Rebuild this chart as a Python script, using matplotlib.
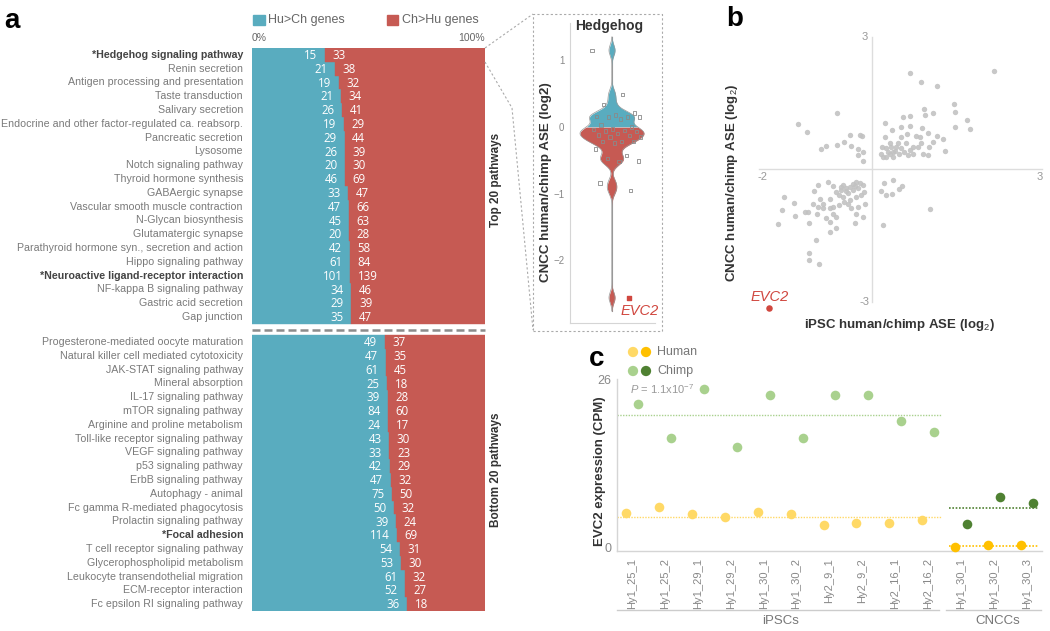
import numpy as np
import matplotlib
matplotlib.use('Agg')
import matplotlib.pyplot as plt
from matplotlib.lines import Line2D
from matplotlib.patches import Rectangle

plt.rcParams['font.family'] = ['Liberation Sans', 'DejaVu Sans']
plt.rcParams['mathtext.fontset'] = 'custom'
plt.rcParams['mathtext.rm'] = 'Liberation Sans'
plt.rcParams['mathtext.it'] = 'Liberation Sans:italic'

# ---------------- data ----------------
top_pathways = ["*Hedgehog signaling pathway", "Renin secretion", "Antigen processing and presentation",
                "Taste transduction", "Salivary secretion", "Endocrine and other factor-regulated ca. reabsorp.",
                "Pancreatic secretion", "Lysosome", "Notch signaling pathway", "Thyroid hormone synthesis",
                "GABAergic synapse", "Vascular smooth muscle contraction", "N-Glycan biosynthesis",
                "Glutamatergic synapse", "Parathyroid hormone syn., secretion and action",
                "Hippo signaling pathway", "*Neuroactive ligand-receptor interaction",
                "NF-kappa B signaling pathway", "Gastric acid secretion", "Gap junction"]
top_hu = [15, 21, 19, 21, 26, 19, 29, 26, 20, 46, 33, 47, 45, 20, 42, 61, 101, 34, 29, 35]
top_ch = [33, 38, 32, 34, 41, 29, 44, 39, 30, 69, 47, 66, 63, 28, 58, 84, 139, 46, 39, 47]

bottom_pathways = ["Progesterone-mediated oocyte maturation", "Natural killer cell mediated cytotoxicity",
                   "JAK-STAT signaling pathway", "Mineral absorption", "IL-17 signaling pathway",
                   "mTOR signaling pathway", "Arginine and proline metabolism",
                   "Toll-like receptor signaling pathway", "VEGF signaling pathway", "p53 signaling pathway",
                   "ErbB signaling pathway", "Autophagy - animal", "Fc gamma R-mediated phagocytosis",
                   "Prolactin signaling pathway", "*Focal adhesion", "T cell receptor signaling pathway",
                   "Glycerophospholipid metabolism", "Leukocyte transendothelial migration",
                   "ECM-receptor interaction", "Fc epsilon RI signaling pathway"]
bottom_hu = [49, 47, 61, 25, 39, 84, 24, 43, 33, 42, 47, 75, 50, 39, 114, 54, 53, 61, 52, 36]
bottom_ch = [37, 35, 45, 18, 28, 60, 17, 30, 23, 29, 32, 50, 32, 24, 69, 31, 30, 32, 27, 18]

hedgehog_ase = [1.15, 0.49, 0.34, 0.21, 0.18, 0.16, 0.15, 0.15, 0.15, 0.12, 0.03, 0.0, -0.03,
                -0.04, -0.05, -0.06, -0.07, -0.10, -0.12, -0.13, -0.15, -0.15, -0.22, -0.22,
                -0.22, -0.24, -0.33, -0.43, -0.47, -0.51, -0.52, -0.84, -0.95]
evc2_cncc_ase = -2.56

ipsc_ase = [0.66, 0.87, 1.14, 2.16, 0.92, 1.07, 1.44, 1.47, 1.68, 1.73, 1.47, 0.55, 0.66, 0.22, 0.35,
            0.50, 0.66, 0.94, 0.88, 0.98, 1.14, 1.25, 1.29, 1.01, 1.07, 0.78, 0.61, 0.51, 0.45, 0.72,
            0.59, 0.22, 0.31, 0.42, 0.36, 0.25, 0.16, 0.19, 0.36, 0.48, 0.57, 0.66, 0.89, 0.98, 0.86,
            0.84, 0.31, 0.25, 0.34, 0.41, 0.51, 0.18, 0.63, 0.72, 0.81, 0.28,
            -0.62, -1.31, -1.16, -0.40, -0.21, -0.18, -0.49, -0.62, -0.81, -0.91, -0.37, -0.25, -0.16,
            -0.25, -0.16,
            0.20, 0.36, 0.53, 0.47, 0.35, 0.24, 0.16, 1.02, 0.19,
            -0.78, -0.96, -1.02, -0.69, -0.55, -0.46, -0.34, -0.28, -0.22, -0.16, -0.34, -0.43, -0.52,
            -0.58, -0.64, -0.14, -0.19, -0.28, -0.40, -0.49, -0.58, -0.69, -0.75, -0.87, -0.96, -1.05,
            -0.93, -0.75, -0.87, -1.55, -1.38, -1.60, -1.37, -1.18, -1.13, -0.97, -0.81, -0.74, -0.64,
            -0.75, -1.12, -1.67, -1.00, -1.11, -1.11, -0.94, -0.31, -0.16, -0.12, -0.25, -0.28, -0.43,
            -0.37, -0.69, -0.64, -0.52, -0.40, -0.31, -0.47, -0.56, -0.25]
cncc_ase = [2.18, 1.98, 1.88, 2.24, 1.37, 1.28, 1.48, 1.30, 1.11, 0.91, 0.97, 1.18, 1.20, 1.06, 0.89,
            0.97, 0.99, 1.24, 0.94, 0.83, 0.75, 0.70, 0.41, 0.51, 0.63, 0.75, 0.81, 0.74, 0.59, 0.51,
            0.60, 0.74, 0.59, 0.51, 0.40, 0.48, 0.36, 0.29, 0.29, 0.36, 0.40, 0.44, 0.36, 0.32, 0.59,
            0.74, 0.36, 0.29, 0.51, 0.42, 0.48, 0.51, 0.32, 0.36, 0.51, 0.40,
            1.29, 1.02, 0.84, 0.79, 0.78, 0.76, 0.63, 0.55, 0.54, 0.46, 0.54, 0.46, 0.39, 0.32, 0.20,
            -0.30, -0.24, -0.38, -0.45, -0.56, -0.58, -0.49, -0.90, -1.26,
            -0.28, -0.34, -0.48, -0.37, -0.39, -0.43, -0.32, -0.28, -0.30, -0.34, -0.47, -0.54, -0.62,
            -0.58, -0.51, -0.51, -0.58, -0.62, -0.69, -0.73, -0.81, -0.84, -0.88, -0.88, -0.84, -0.77,
            -0.66, -0.66, -0.77, -0.63, -0.75, -0.92, -1.06, -0.97, -0.97, -1.00, -1.09, -1.18, -1.32,
            -1.41, -1.21, -1.23, -1.60, -1.89, -2.06, -2.13, -1.22, -1.07, -0.79, -0.84, -1.00, -0.77,
            -0.88, -1.00, -1.07, -0.35, -0.39, -0.38, -0.48, -0.47, -0.43]
evc2_ipsc, evc2_cncc = -1.82, -3.13

ipsc_samples = ["Hy1_25_1", "Hy1_25_2", "Hy1_29_1", "Hy1_29_2", "Hy1_30_1", "Hy1_30_2",
                "Hy2_9_1", "Hy2_9_2", "Hy2_16_1", "Hy2_16_2"]
cncc_samples = ["Hy1_30_1", "Hy1_30_2", "Hy1_30_3"]
human_ipsc = [5.26, 6.14, 5.06, 4.70, 5.37, 5.16, 3.35, 3.72, 3.72, 4.13]
chimp_ipsc = [22.19, 16.82, 24.41, 15.48, 23.48, 16.87, 23.58, 23.48, 19.45, 17.80]
human_cncc = [0.0, 0.36, 0.36]
chimp_cncc = [3.56, 7.79, 6.81]

# ---------------- style ----------------
BLUE = '#59acbf'
RED = '#c65a53'
W, H = 1050, 631
fig = plt.figure(figsize=(W / 100, H / 100), dpi=100)


def fx(x):
    return x / W


def fy(y):
    return 1 - y / H


def add_ax(x0, y0, x1, y1):
    return fig.add_axes([fx(x0), fy(y1), (x1 - x0) / W, (y1 - y0) / H])


def ftext(x, y, s, **kw):
    return fig.text(fx(x), fy(y), s, **kw)


def fline(xs, ys, **kw):
    fig.add_artist(Line2D([fx(v) for v in xs], [fy(v) for v in ys], transform=fig.transFigure, **kw))


# ---------------- panel a : bars ----------------
ax = add_ax(252, 48, 485, 611)
gap = 0.8
names = top_pathways + bottom_pathways
hu = np.array(top_hu + bottom_hu, float)
ch = np.array(top_ch + bottom_ch, float)
ypos = np.array(list(range(20)) + [20 + gap + j for j in range(20)])
frac = hu / (hu + ch)
ax.barh(ypos, frac, height=1.0, color=BLUE, edgecolor=BLUE, linewidth=0.3)
ax.barh(ypos, 1 - frac, left=frac, height=1.0, color=RED, edgecolor=RED, linewidth=0.3)
ax.set_xlim(0, 1)
ax.set_ylim(39.8 + 0.5, -0.5)
ax.axis('off')
for y, f, name, h, c in zip(ypos, frac, names, hu, ch):
    bold = name.startswith('*')
    ax.text(-9 / 233, y, name, ha='right', va='center', fontsize=7.7,
            color='#444' if bold else '#7a7a7a', fontweight='bold' if bold else 'normal')
    ax.annotate(str(int(h)), (f, y), xytext=(-5.5, -0.5), textcoords='offset points', ha='right',
                va='center', fontsize=8.3, color='white', family=['Open Sans', 'DejaVu Sans'])
    ax.annotate(str(int(c)), (f, y), xytext=(5.5, -0.5), textcoords='offset points', ha='left',
                va='center', fontsize=8.3, color='white', family=['Open Sans', 'DejaVu Sans'])
ax.plot([0, 1], [19.5 + gap / 2] * 2, color='#8c8c8c', lw=1.8, ls=(0, (3.2, 1.6)), clip_on=False)

# legend & axis text
fig.add_artist(Rectangle((fx(253), fy(25)), 12 / W, 10 / H, transform=fig.transFigure, color=BLUE))
ftext(268, 20, 'Hu>Ch genes', fontsize=9, color='#666', va='center')
fig.add_artist(Rectangle((fx(387), fy(25)), 11 / W, 10 / H, transform=fig.transFigure, color=RED))
ftext(402, 20, 'Ch>Hu genes', fontsize=9, color='#666', va='center')
ftext(252, 38, '0%', fontsize=7.5, color='#666', va='center')
ftext(485, 38, '100%', fontsize=7.5, color='#666', va='center', ha='right')
ftext(496, 180, 'Top 20 pathways', rotation=90, fontsize=8.5, fontweight='bold', color='#333',
      ha='center', va='center')
ftext(496, 470, 'Bottom 20 pathways', rotation=90, fontsize=8.5, fontweight='bold', color='#333',
      ha='center', va='center')
ftext(4, 28, 'a', fontsize=20, fontweight='bold', va='baseline')

# connectors and box
fline([485, 533], [48, 14], color='#aaa', lw=0.8, ls=(0, (2, 2)))
fline([485, 512, 533], [62, 108, 330], color='#aaa', lw=0.8, ls=(0, (2, 2)))
fig.add_artist(Rectangle((fx(533), fy(331)), 129 / W, 317 / H, transform=fig.transFigure,
                         fill=False, ec='#aaa', lw=0.8, ls=(0, (2, 2))))

# ---------------- violin ----------------
axv = add_ax(570, 23, 655, 323)
cx = 42
vals = np.array(hedgehog_ase + [evc2_cncc_ase])
grid = np.linspace(vals.min() - 0.2, vals.max() + 0.2, 800)
bw = 0.08
dens = np.exp(-0.5 * ((grid[:, None] - vals[None, :]) / bw) ** 2).sum(axis=1)
half = dens / dens.max() * 32
axv.plot([cx, cx], [grid[0], grid[-1]], color='#9a9a9a', lw=0.8, zorder=1)
up = grid >= 0
dn = grid <= 0
axv.fill_betweenx(grid[up], cx - half[up], cx + half[up], color=BLUE, lw=0, zorder=2)
axv.fill_betweenx(grid[dn], cx - half[dn], cx + half[dn], color=RED, lw=0, zorder=2)
axv.plot(cx - half, grid, color='#999', lw=0.5, zorder=3)
axv.plot(cx + half, grid, color='#999', lw=0.5, zorder=3)
n = len(hedgehog_ase)
jit = [((i * 0.6180339) % 1 - 0.4) * 50 for i in range(n)]
axv.scatter(np.array(jit) + cx, hedgehog_ase, marker='s', s=5, facecolor='none',
            edgecolor='#8a8a8a', lw=0.6, zorder=4)
axv.scatter([cx + 17], [evc2_cncc_ase], marker='s', s=12, color='#d0473f', zorder=4)
axv.text(cx + 28, evc2_cncc_ase - 0.2, 'EVC2', color='#d0473f', fontsize=10.5, style='italic',
         ha='center', va='center')
axv.set_xlim(0, 85)
axv.set_ylim(-2.94, 1.56)
axv.set_xticks([])
axv.set_yticks([1, 0, -1, -2])
axv.set_yticklabels(['1', '0', '\u22121', '\u22122'], fontsize=7, color='#888')
axv.tick_params(axis='y', length=0, pad=4)
for s in ['top', 'right']:
    axv.spines[s].set_visible(False)
for s in ['left', 'bottom']:
    axv.spines[s].set_color('#d5d5d5')
    axv.spines[s].set_linewidth(0.8)
ftext(609, 26, 'Hedgehog', fontsize=10, fontweight='bold', color='#333', ha='center', va='center')
ftext(546, 182, 'CNCC human/chimp ASE (log2)', rotation=90, fontsize=9.6, fontweight='bold',
      color='#333', ha='center', va='center')

# ---------------- panel b ----------------
axb = add_ax(759, 37, 1042, 302)
axb.scatter(ipsc_ase, cncc_ase, s=15, color='#c2c2c2', alpha=0.9, lw=0)
axb.scatter([evc2_ipsc], [evc2_cncc], s=22, color='#d0473f', lw=0, clip_on=False)
axb.text(evc2_ipsc, evc2_cncc + 0.25, 'EVC2', color='#d0473f', fontsize=10.5, style='italic',
         ha='center', va='center')
axb.set_xlim(-2, 3)
axb.set_ylim(-3, 3)
axb.spines['left'].set_position(('data', 0))
axb.spines['bottom'].set_position(('data', 0))
for s in ['top', 'right']:
    axb.spines[s].set_visible(False)
for s in ['left', 'bottom']:
    axb.spines[s].set_color('#dddddd')
    axb.spines[s].set_linewidth(1)
axb.set_xticks([])
axb.set_yticks([])
ftext(868, 37, '3', fontsize=8, color='#999', ha='right', va='center')
ftext(762, 177, '-2', fontsize=8, color='#999', ha='center', va='center')
ftext(1040, 177, '3', fontsize=8, color='#999', ha='center', va='center')
ftext(869, 302, '-3', fontsize=8, color='#999', ha='right', va='center')
ftext(732, 183, 'CNCC human/chimp ASE (log$_2$)', rotation=90, fontsize=9.5, fontweight='bold',
      color='#333', ha='center', va='center')
ftext(900, 325, 'iPSC human/chimp ASE (log$_2$)', fontsize=9.5, fontweight='bold',
      color='#333', ha='center', va='center')
ftext(726, 26, 'b', fontsize=20, fontweight='bold', va='baseline')

# ---------------- panel c ----------------
axc = add_ax(617, 379, 1042, 551)
ni = len(ipsc_samples)
xi = np.arange(ni)
xc = np.arange(ni, ni + len(cncc_samples))
off = 0.18
Y1, Y2 = '#ffd966', '#ffc000'
G1, G2 = '#a9d18e', '#4f8132'
axc.scatter(xi - off, human_ipsc, s=48, color=Y1, lw=0, zorder=3)
axc.scatter(xi + off, chimp_ipsc, s=48, color=G1, lw=0, zorder=3)
axc.scatter(xc - off, human_cncc, s=48, color=Y2, lw=0, zorder=3, clip_on=False)
axc.scatter(xc + off, chimp_cncc, s=48, color=G2, lw=0, zorder=3)
axc.plot([-0.46, 9.42], [np.mean(chimp_ipsc)] * 2, color=G1, lw=1, ls=(0, (1, 1)))
axc.plot([-0.46, 9.42], [np.mean(human_ipsc)] * 2, color=Y1, lw=1, ls=(0, (1, 1)))
axc.plot([9.62, 12.34], [np.mean(chimp_cncc)] * 2, color=G2, lw=1.2, ls=(0, (1, 1)))
axc.plot([9.62, 12.34], [np.mean(human_cncc)] * 2, color=Y2, lw=1.2, ls=(0, (1, 1)))
axc.set_xlim(-0.46, 12.46)
axc.set_ylim(-0.6, 26)
axc.set_xticks(np.arange(ni + len(cncc_samples)))
axc.set_xticklabels(ipsc_samples + cncc_samples, rotation=90, fontsize=8, color='#888')
axc.set_yticks([0, 26])
axc.set_yticklabels(['0', '26'], fontsize=9, color='#888')
axc.tick_params(length=0)
axc.tick_params(axis='x', pad=5)
axc.tick_params(axis='y', pad=4)
for s in ['top', 'right']:
    axc.spines[s].set_visible(False)
for s in ['left', 'bottom']:
    axc.spines[s].set_color('#d5d5d5')
    axc.spines[s].set_linewidth(1)
ftext(630, 389, r'$\it{P}$ = 1.1x10$^{-7}$', fontsize=8, color='#999', va='center')
ftext(600, 471, 'EVC2 expression (CPM)', rotation=90, fontsize=9.5, fontweight='bold',
      color='#333', ha='center', va='center')
ftext(589, 366, 'c', fontsize=20, fontweight='bold', va='baseline')

# legend c
legc = fig.add_axes([0, 0, 1, 1], facecolor='none')
legc.set_xlim(0, W)
legc.set_ylim(H, 0)
legc.axis('off')
legc.scatter([633, 646], [352, 352], s=55, color=[Y1, Y2], lw=0)
legc.scatter([633, 646], [371, 371], s=55, color=[G1, G2], lw=0)
legc.text(657, 352, 'Human', fontsize=9, color='#777', va='center')
legc.text(657, 371, 'Chimp', fontsize=9, color='#777', va='center')

# group lines
fline([617, 939], [610, 610], color='#ccc', lw=1)
fline([946, 1041], [610, 610], color='#ccc', lw=1)
ftext(781, 621, 'iPSCs', fontsize=9.5, color='#777', ha='center', va='center')
ftext(998, 621, 'CNCCs', fontsize=9.5, color='#777', ha='center', va='center')

fig.savefig('out.png', dpi=100)
